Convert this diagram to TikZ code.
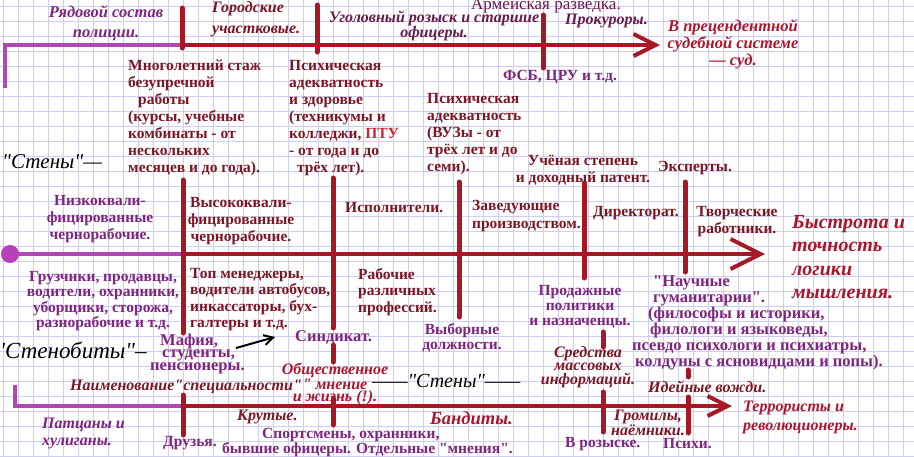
\documentclass[tikz,border=0pt]{standalone}
\usepackage{fontspec}
\setmainfont{Liberation Serif}[Ligatures=TeXOff]
\usetikzlibrary{arrows.meta}

\definecolor{bordo}{RGB}{125,22,35}
\definecolor{fiolet}{RGB}{128,36,128}
\definecolor{vishnya}{RGB}{105,25,75}
\definecolor{krasn}{RGB}{172,22,45}
\definecolor{liniya}{RGB}{168,24,36}
\definecolor{lilac}{RGB}{176,72,178}
\definecolor{kletka}{RGB}{206,206,238}
\definecolor{ptu}{RGB}{200,40,55}

\begin{document}
\begin{tikzpicture}[x=1pt,y=-1pt,
    txt/.style={inner sep=0pt,font=\fontsize{15.5}{#1}\selectfont\bfseries},
    txt/.default=17,
    kurs/.style={inner sep=0pt,font=\fontsize{16}{#1}\selectfont\bfseries\itshape},
    kurs/.default=17,
    stena/.style={inner sep=0pt,font=\fontsize{21}{24}\selectfont\itshape},
    osn/.style={draw=liniya,line width=4pt},
    lil/.style={draw=lilac,line width=3.6pt},
    tick/.style={draw=liniya,line width=5pt,line cap=round},
    strelka/.style={-{Straight Barb[length=#1,width=#1]}},
  ]
  % бумага в клетку
  \path[fill=white,use as bounding box](0,0)rectangle(914,456);
  \foreach \gx in {3,18,...,913}
    \path[draw=kletka,line width=0.7pt](\gx,0)--(\gx,456);
  \foreach \gy in {6,21,...,456}
    \path[draw=kletka,line width=0.7pt](0,\gy)--(914,\gy);

  % верхняя линия
  \coordinate(t0)at(5,88);
  \coordinate(t1)at(5,45);
  \coordinate(t2)at(182,45);
  \coordinate(t3)at(660,45);
  \path[lil](t0)--(t1)--(t2);
  \path[osn,strelka=22pt](t2)--(t3);
  \path[tick](182,8)to(182,48);
  \path[tick](317,5)to(317,52);
  \path[tick](543,15)to(543,68);

  % средняя линия
  \coordinate(m0)at(10,254);
  \coordinate(m1)at(183,254);
  \coordinate(m2)at(765,254);
  \path[lil](m0)--(m1);
  \path[fill=lilac!90!magenta](m0)circle(9);
  \path[osn,strelka=30pt](m1)--(m2);
  \path[tick](183,180)to(183,333);
  \path[tick](333,178)to(333,328);
  \path[tick](333,345)to(333,362);
  \path[tick](459,182)to(459,317);
  \path[tick](584,183)to(584,278);
  \path[tick](603,332)to(603,347);
  \path[tick](685,182)to(685,272);

  % нижняя линия
  \coordinate(b0)at(15,385);
  \coordinate(b1)at(15,406);
  \coordinate(b2)at(183,406);
  \coordinate(b3)at(732,406);
  \path[lil](b0)--(b1)--(b2);
  \path[osn,strelka=20pt](b2)--(b3);
  \path[tick](183,395)to(183,435);
  \path[tick](333,398)to(333,425);
  \path[tick](603,392)to(603,432);
  \path[tick](688,370)to(688,377);
  \path[tick](688,397)to(688,433);

  % верхний ряд
  \node[kurs=20,font=\fontsize{16.5}{20}\selectfont\bfseries\itshape,text=fiolet,align=center,anchor=north](ryad)at(106,5){Рядовой состав\\полиции.};
  \node[kurs=21,text=bordo,align=left,anchor=north west](gorod)at(212,1){Городские\\участковые.};
  \node[kurs=15,text=vishnya,align=center,anchor=north](ugol)at(434,11){Уголовный розыск и старшие\\офицеры.};
  \node[inner sep=0pt,font=\fontsize{17}{18}\selectfont,text=vishnya,anchor=west](armey)at(471,5){Армейская разведка.};
  \node[kurs,text=vishnya,anchor=west](prok)at(565,21){Прокуроры.};
  \node[kurs,font=\fontsize{16.5}{17}\selectfont\bfseries\itshape,text=krasn,align=center,anchor=north](sud)at(733,19){В прецендентной\\судебной системе\\— суд.};
  \node[txt,text=fiolet,anchor=west](fsb)at(503,77){ФСБ, ЦРУ и т.д.};

  \node[txt,text=bordo,align=left,anchor=north west](stazh)at(128,60){Многолетний стаж\\безупречной\\\hspace*{10pt}работы\\(курсы, учебные\\комбинаты - от\\нескольких\\месяцев и до года).};
  \node[txt,text=bordo,align=left,anchor=north west](psih1)at(289,60){Психическая\\адекватность\\и здоровье\\(техникумы и\\колледжи, {\color{ptu}ПТУ}\\- от года и до\\\hspace*{8pt}трёх лет).};
  \node[txt,text=bordo,align=left,anchor=north west](psih2)at(427,93){Психическая\\адекватность\\(ВУЗы - от\\трёх лет и до\\семи).};
  \node[txt,text=bordo,align=center,anchor=north](uchen)at(583,155){Учёная степень\\и доходный патент.};
  \node[txt,text=bordo,anchor=west](eksp)at(658,168){Эксперты.};

  % "стены"
  \node[stena,anchor=west](steny1)at(2,162){"Стены"—};
  \node[stena,font=\fontsize{23}{26}\selectfont\itshape,anchor=west](stenobity)at(0,350){'Стенобиты"–};
  \node[stena,font=\fontsize{20}{24}\selectfont\itshape,anchor=west](steny2)at(372,381){——"Стены"——};

  % средний ряд
  \node[txt,text=fiolet,align=center,anchor=north](nizko)at(100,195){Низкоквали-\\фицированные\\чернорабочие.};
  \node[txt,text=bordo,align=center,anchor=north](vysoko)at(241,197){Высококвали-\\фицированные\\чернорабочие.};
  \node[txt,text=bordo,anchor=west](ispoln)at(345,208){Исполнители.};
  \node[txt=18,text=bordo,align=left,anchor=north west](zaved)at(472,200){Заведующие\\производством.};
  \node[txt,text=bordo,anchor=west](direkt)at(593,213){Директорат.};
  \node[txt,text=bordo,align=center,anchor=north](tvorch)at(737,206){Творческие\\работники.};
  \node[inner sep=0pt,font=\fontsize{20}{23.5}\selectfont\bfseries\itshape,text=krasn,align=left,anchor=north west](bystr)at(792,215){Быстрота и\\точность\\логики\\мышления.};

  \node[txt=15.5,text=fiolet,align=center,anchor=north](gruz)at(103,271){Грузчики, продавцы,\\водители, охранники,\\уборщики, сторожа,\\разнорабочие и т.д.};
  \node[txt=16.5,text=bordo,align=left,anchor=north west](topm)at(190,268){Топ менеджеры,\\водители автобусов,\\инкассаторы, бух-\\галтеры и т.д.};
  \node[txt=16.5,text=bordo,align=left,anchor=north west](rabochie)at(358,268){Рабочие\\различных\\профессий.};
  \node[txt,font=\fontsize{16.5}{17}\selectfont\bfseries,text=fiolet,anchor=west](sindikat)at(295,337){Синдикат.};
  \node[txt,font=\fontsize{16.5}{17}\selectfont\bfseries,text=fiolet,anchor=west](mafia)at(160,342){Мафия,};
  \node[txt,font=\fontsize{16.5}{17}\selectfont\bfseries,text=fiolet,anchor=west](studenty)at(162,355){студенты,};
  \node[txt,font=\fontsize{16.5}{17}\selectfont\bfseries,text=fiolet,anchor=west](pensio)at(150,368){пенсионеры.};
  \coordinate(arrS)at(236,348);
  \coordinate(arrE)at(275,337);
  \path[draw,line width=2pt,-{Straight Barb[length=9pt,width=10pt]}](arrS)--(arrE);

  \node[txt=15,text=fiolet,align=center,anchor=north](prodazh)at(580,285){Продажные\\политики\\и назначенцы.};
  \node[txt=15,text=fiolet,align=center,anchor=north](vybor)at(462,323){Выборные\\должности.};
  \node[txt,font=\fontsize{16.5}{16}\selectfont\bfseries,text=fiolet,align=left,anchor=north west](nauch)at(632,275){\hspace*{21pt}"Научные\\\hspace*{21pt}гуманитарии".\\\hspace*{16pt}(философы и историки,\\\hspace*{18pt}филологи и языковеды,\\псевдо психологи и психиатры,\\\hspace*{3pt}колдуны с ясновидцами и попы).};
  \node[kurs=13.5,text=bordo,align=center,anchor=north](smi)at(588,346){Средства\\массовых\\информаций.};
  \node[kurs,text=bordo,anchor=west](ideyn)at(648,387){Идейные вожди.};
  \node[kurs=11,text=krasn,align=center,anchor=north](obsh)at(335,363){Общественное\\" мнение\\и жизнь (!).};
  \node[kurs,text=bordo,anchor=west](naimen)at(70,387){Наименование"специальности"};

  % нижний ряд
  \node[kurs,text=fiolet,align=left,anchor=north west](patsany)at(42,418){Патцаны и\\хулиганы.};
  \node[txt,text=fiolet,anchor=west](druzya)at(163,443){Друзья.};
  \node[kurs,text=bordo,anchor=west](krutye)at(237,417){Крутые.};
  \node[txt=12,text=fiolet,align=left,anchor=north west](sport)at(222,428){\hspace*{40pt}Спортсмены, охранники,\\бывшие офицеры. Отдельные "мнения".};
  \node[inner sep=0pt,font=\fontsize{18.5}{20}\selectfont\bfseries\itshape,text=krasn,anchor=west](bandity)at(430,418){Бандиты.};
  \node[kurs=12,text=bordo,align=center,anchor=north](gromily)at(648,410){Громилы,\\наёмники.};
  \node[txt,text=fiolet,anchor=west](rozysk)at(565,444){В розыске.};
  \node[txt,text=fiolet,anchor=west](psihi)at(663,444){Психи.};
  \node[kurs=19,text=krasn,align=left,anchor=north west](terror)at(743,401){Террористы и\\революционеры.};
\end{tikzpicture}
\end{document}
